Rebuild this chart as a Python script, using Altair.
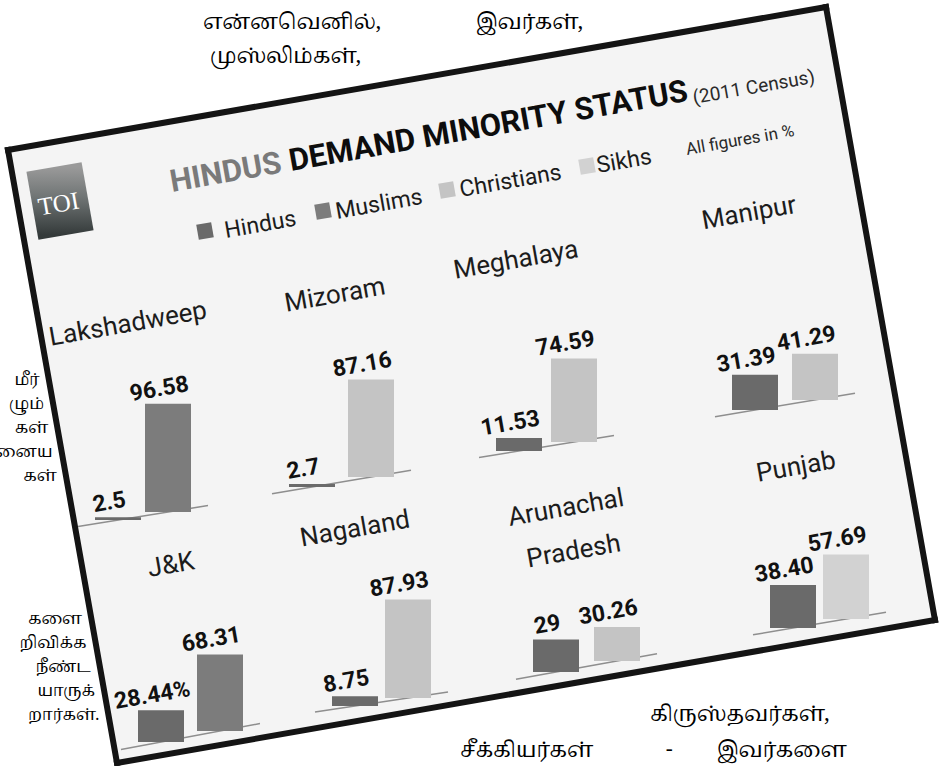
import altair as alt
import pandas as pd

# ---------------- data ----------------
states = ["Lakshadweep", "Mizoram", "Meghalaya", "Manipur",
          "J&K", "Nagaland", "Arunachal\nPradesh", "Punjab"]
hindu_pct = [2.5, 2.7, 11.53, 31.39, 28.44, 8.75, 29, 38.40]
hindu_labels = ["2.5", "2.7", "11.53", "31.39", "28.44%", "8.75", "29", "38.40"]
other_religion = ["Muslims", "Christians", "Christians", "Christians",
                  "Muslims", "Christians", "Christians", "Sikhs"]
other_pct = [96.58, 87.16, 74.59, 41.29, 68.31, 87.93, 30.26, 57.69]
other_labels = ["96.58", "87.16", "74.59", "41.29", "68.31", "87.93", "30.26", "57.69"]
legend_items = ["Hindus", "Muslims", "Christians", "Sikhs"]
legend_colors = ["#6a6a6a", "#7c7c7c", "#c4c4c4", "#d2d2d2"]

title_grey = "HINDUS"
title_black = "DEMAND MINORITY STATUS"
title_note = "(2011 Census)"
units_note = "All figures in %"
logo_text = "TOI"

tamil_top = ["என்னவெனில்,", "இவர்கள்,", "முஸ்லிம்கள்,"]
tamil_left_a = ["மீர்", "ழும்", "கள்", "னைய", "கள்"]
tamil_left_b = ["களை", "றிவிக்க", "நீண்ட", "யாருக்", "றார்கள்."]
tamil_bottom = ["கிருஸ்தவர்கள்,", "சீக்கியர்கள்", "-", "இவர்களை"]

# ---------------- layout (pixel geometry of the tilted sheet) ----------------
SANS = "Roboto, Liberation Sans, sans-serif"
TAMIL = "Noto Serif Tamil, Noto Sans Tamil, Lohit Tamil, Latha, serif"
ANG = 350
K = 1.12  # px per percent
# (centre x, baseline y) for the Hindu bar and the other bar of each state
bar_geo = [
    [(118, 520), (168, 512)],
    [(312, 487), (371, 477)],
    [(519, 451), (574, 442)],
    [(755, 410), (815, 400)],
    [(161, 742), (220, 731)],
    [(355, 706), (408, 698)],
    [(556, 672), (617, 661)],
    [(793, 628), (846, 619)],
]
name_geo = [(128, 324), (335, 295), (516, 260), (749, 213),
            (171, 565), (355, 529), (566, 508), (796, 467)]

color_scale = alt.Scale(domain=legend_items, range=legend_colors)
one = pd.DataFrame({"a": [0]})


def seg(x1, y1, x2, y2, color, width, cap="butt"):
    return alt.Chart(one).mark_rule(color=color, strokeWidth=width, strokeCap=cap).encode(
        x=alt.value(x1), y=alt.value(y1), x2=alt.value(x2), y2=alt.value(y2))


def txt(t, x, y, size, font=SANS, weight="normal", color="#1c1c1c",
        align="left", baseline="alphabetic", angle=ANG, line_height=None):
    kw = dict(fontSize=size, font=font, fontWeight=weight, color=color,
              align=align, baseline=baseline, angle=angle)
    if line_height:
        kw["lineHeight"] = line_height
        kw["lineBreak"] = "\n"
    return alt.Chart(pd.DataFrame({"t": [t]})).mark_text(**kw).encode(
        x=alt.value(x), y=alt.value(y), text="t:N")


layers = []

# sheet background (a wide rule drawn across the tilted rectangle) and border
TL, TR, BR, BL = (8, 150), (826, 7), (935, 620), (117, 763)
layers.append(seg((TL[0] + BL[0]) / 2, (TL[1] + BL[1]) / 2,
                  (TR[0] + BR[0]) / 2, (TR[1] + BR[1]) / 2, "#f4f4f4", 622))
for p, q in [(TL, TR), (TR, BR), (BR, BL), (BL, TL)]:
    layers.append(seg(p[0], p[1], q[0], q[1], "#141414", 6, cap="square"))

# TOI logo
grad = alt.LinearGradient(gradient="linear",
                          stops=[alt.GradientStop(color="#9a9a9a", offset=0),
                                 alt.GradientStop(color="#6f7474", offset=0.45),
                                 alt.GradientStop(color="#343a3a", offset=1)],
                          x1=0, x2=0, y1=0, y2=1)
layers.append(alt.Chart(one).mark_rule(stroke=grad, strokeWidth=56, strokeCap="butt").encode(
    x=alt.value(54), y=alt.value(167), x2=alt.value(66), y2=alt.value(235)))
layers.append(txt(logo_text, 60, 212, 25, font="Liberation Serif, serif", color="#ffffff",
                  align="center"))

# title, notes
layers.append(txt(title_grey, 172, 192, 31, weight="bold", color="#7a7a7a"))
layers.append(txt(title_black, 291, 171, 31, weight="bold", color="#0d0d0d"))
layers.append(txt(title_note, 694, 104, 19, color="#2a2a2a"))
layers.append(txt(units_note, 687, 155, 17, color="#2a2a2a"))

# legend
sq_pos = [(205, 231), (323, 211), (447, 190), (587, 166)]
lab_pos = [(226, 238), (337, 219), (461, 197), (598, 173)]
for item, col, (sx, sy), (lx, ly) in zip(legend_items, legend_colors, sq_pos, lab_pos):
    layers.append(alt.Chart(one).mark_square(size=230, angle=ANG, color=col, opacity=1).encode(
        x=alt.value(sx), y=alt.value(sy)))
    layers.append(txt(item, lx, ly, 23, color="#1c1c1c"))

# state names
for s, (nx, ny) in zip(states, name_geo):
    layers.append(txt(s, nx, ny, 26, align="center", baseline="middle", line_height=44))

# baselines
for (h, o) in bar_geo:
    slope = (o[1] - h[1]) / (o[0] - h[0])
    layers.append(seg(h[0] - 40, h[1] - slope * 40, o[0] + 40, o[1] + slope * 40, "#8e8e8e", 1.5))

# bars + value labels
for i, s in enumerate(states):
    rows = [("Hindus", hindu_pct[i], hindu_labels[i]),
            (other_religion[i], other_pct[i], other_labels[i])]
    for (rel, val, lab), (cx, base) in zip(rows, bar_geo[i]):
        d = pd.DataFrame({"state": [s], "religion": [rel], "value": [val], "label": [lab]})
        xenc = alt.X("religion:N", axis=None,
                     scale=alt.Scale(domain=[rel], range=[cx - 23, cx + 23],
                                     paddingInner=0, paddingOuter=0))
        yenc = alt.Y("value:Q", axis=None,
                     scale=alt.Scale(domain=[0, 100], range=[base, base - 100 * K]))
        bar = alt.Chart(d).mark_bar().encode(
            x=xenc, y=yenc, color=alt.Color("religion:N", scale=color_scale, legend=None))
        lbl = alt.Chart(d).mark_text(font=SANS, fontWeight="bold", fontSize=23,
                                     baseline="bottom", angle=ANG, dy=-4, dx=-6,
                                     color="#111111").encode(x=xenc, y=yenc, text="label:N")
        layers.append(alt.layer(bar, lbl))

# surrounding Tamil article text
layers.append(txt(tamil_top[0], 203, 29, 21, font=TAMIL, color="#000000", angle=0))
layers.append(txt(tamil_top[1], 476, 29, 21, font=TAMIL, color="#000000", angle=0))
layers.append(txt(tamil_top[2], 210, 63, 21, font=TAMIL, color="#000000", angle=0))


def edge_x(y):
    return TL[0] + (y - TL[1]) * (BL[0] - TL[0]) / (BL[1] - TL[1])


for j, t in enumerate(tamil_left_a):
    y = 385 + j * 24
    layers.append(txt(t, edge_x(y) - 10, y, 16, font=TAMIL, color="#000000",
                      align="right", angle=0))
for j, t in enumerate(tamil_left_b):
    y = 624 + j * 24
    layers.append(txt(t, edge_x(y) - 10, y, 16, font=TAMIL, color="#000000",
                      align="right", angle=0))
layers.append(txt(tamil_bottom[0], 650, 721, 21, font=TAMIL, color="#000000", angle=0))
layers.append(txt(tamil_bottom[1], 460, 757, 21, font=TAMIL, color="#000000", angle=0))
layers.append(txt(tamil_bottom[2], 666, 756, 21, font=TAMIL, color="#000000", angle=0))
layers.append(txt(tamil_bottom[3], 717, 757, 21, font=TAMIL, color="#000000", angle=0))

chart = alt.layer(*layers).resolve_scale(x="independent", y="independent").properties(
    width=946, height=766, autosize="none", padding=0, background="#ffffff"
).configure_view(stroke=None)

chart.save("out.html", embed_options={"renderer": "svg", "actions": False})
